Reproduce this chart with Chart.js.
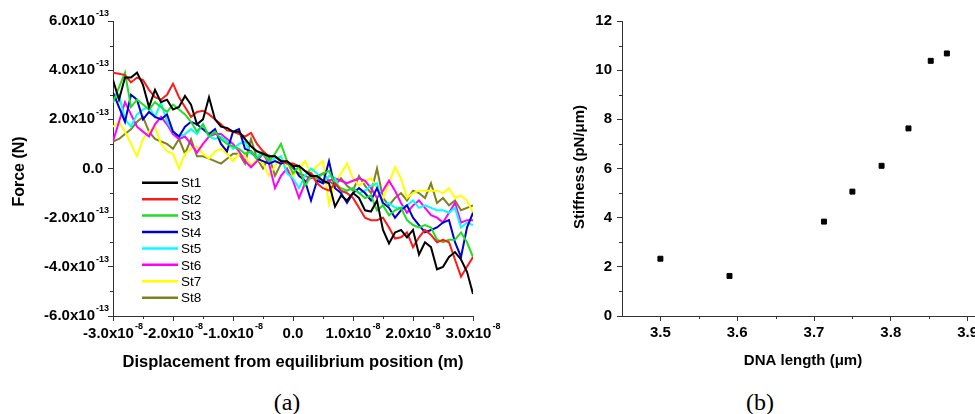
<!DOCTYPE html>
<html>
<head>
<meta charset="utf-8">
<script src="https://cdn.jsdelivr.net/npm/chart.js@4.4.1/dist/chart.umd.min.js"></script>
<style>
  html, body { margin: 0; padding: 0; background: #fff; overflow: hidden; }
  body { width: 975px; height: 414px; position: relative; }
  #wrapA { position: absolute; left: 0; top: 0; width: 520px; height: 414px; z-index: 2; }
  #wrapB { position: absolute; left: 500px; top: 0; width: 540px; height: 414px; z-index: 1; }
  .cap {
    position: absolute; top: 402px; transform: translate(-50%, -50%);
    font: 24px "Liberation Serif", "Times New Roman", serif; line-height: 1; color: #000;
  }
</style>
</head>
<body>
<div id="wrapA"><canvas id="chartA" width="520" height="414"></canvas></div>
<div id="wrapB"><canvas id="chartB" width="540" height="414"></canvas></div>
<div class="cap" style="left:287px">(a)</div>
<div class="cap" style="left:760px">(b)</div>

<script>
// ---- data (a): displacement in units of 1e-8 m, force in units of 1e-13 N ----
const displacement = [
  -3.0, -2.9, -2.8, -2.7, -2.6, -2.5, -2.4, -2.3, -2.2, -2.1,
  -2.0, -1.9, -1.8, -1.7, -1.6, -1.5, -1.4, -1.3, -1.2, -1.1,
  -1.0, -0.9, -0.8, -0.7, -0.6, -0.5, -0.4, -0.3, -0.2, -0.1,
  0.0, 0.1, 0.2, 0.3, 0.4, 0.5, 0.6, 0.7, 0.8, 0.9,
  1.0, 1.1, 1.2, 1.3, 1.4, 1.5, 1.6, 1.7, 1.8, 1.9,
  2.0, 2.1, 2.2, 2.3, 2.4, 2.5, 2.6, 2.7, 2.8, 2.9,
  3.0
];
const forceSt1 = [
  3.6, 2.8, 3.7, 3.7, 3.9, 3.4, 2.5, 3.2, 2.7, 2.8,
  2.4, 2.5, 2.95, 2.6, 1.8, 2.0, 2.9, 2.0, 1.7, 1.65,
  1.5, 1.5, 1.2, 0.9, 0.7, 0.6, 0.5, 0.5, 0.3, 0.3,
  0.1, 0.1, -0.1, -0.3, -0.3, -0.5, -0.6, -1.55, -1.1, -1.3,
  -1.0, -1.2, -1.7, -1.75, -1.3, -2.5, -3.05, -2.6, -2.5, -2.8,
  -2.5, -3.5, -3.0, -3.2, -4.1, -4.0, -3.6, -3.4, -3.7, -4.2,
  -5.1
];
const forceSt2 = [
  3.9, 3.85, 3.8, 3.5, 3.7, 3.6, 3.2, 2.9, 2.8, 3.0,
  3.45, 2.9, 2.5, 2.1, 2.3, 2.35, 2.2, 2.0, 1.8, 1.55,
  1.5, 1.4, 1.3, 1.45, 1.0, 0.7, 0.5, 0.5, 0.3, 0.2,
  0.2, 0.1, -0.1, -0.2, -0.6, -0.8, -0.9, -0.6, -0.9, -1.0,
  -1.2, -1.6, -2.0, -2.1, -2.1, -2.0, -2.4, -2.85, -2.8, -2.6,
  -3.2, -2.8, -2.5, -2.7, -3.0, -2.9, -3.0, -3.7, -4.4, -4.0,
  -3.6
];
const forceSt3 = [
  2.7, 3.3, 3.9, 2.5, 2.8, 2.6, 2.4, 2.7, 2.5, 2.3,
  2.6, 2.4, 2.2, 1.9, 1.5, 1.8, 1.3, 1.5, 1.2, 1.0,
  0.9, 0.8, 0.6, 0.7, 0.4, 0.6, 0.3, 0.6, 1.0, 0.3,
  -0.2, 0.1, -0.7, -0.3, -0.4, -0.2, -0.1, -0.6, -0.8, -0.9,
  -0.8, -1.0, -1.2, -1.1, -1.7, -1.5, -1.9, -1.7, -1.6, -2.1,
  -2.3, -2.4, -2.3, -2.4, -2.9, -3.0, -2.9, -2.9, -2.6, -3.0,
  -3.6
];
const forceSt4 = [
  3.1, 2.5, 1.9, 3.0, 2.8, 2.0, 2.3, 2.1, 2.0, 2.2,
  1.5, 1.3, 1.7, 1.9, 1.8, 1.6, 1.4, 1.6, 1.0, 0.7,
  1.5, 1.6, 0.8, 0.7, 0.4, 0.3, 0.2, 0.3, 0.2, 0.3,
  0.1, -0.3, -0.5, -1.3, -0.5, -0.6, 0.3, -0.8, -1.0, -1.4,
  -1.0, -0.8, -1.0, -1.3, -0.8, -1.4, -1.6, -2.0, -1.7, -1.5,
  -2.0, -2.3, -2.6, -2.5, -2.4, -2.2, -2.1, -3.0, -3.6, -2.4,
  -1.8
];
const forceSt5 = [
  2.7, 3.0, 2.0, 1.7, 2.2, 2.4, 2.5, 2.1, 2.7, 1.9,
  1.5, 1.3, 1.4, 1.6, 1.4, 1.8, 1.3, 1.2, 1.3, 1.1,
  0.8, 1.0, 1.1, 0.6, 0.5, 0.7, 0.3, 0.4, 0.5, -0.2,
  -0.4, -0.8, -0.3, 0.0, -0.2, -0.6, -0.3, -0.4, -1.0, -0.9,
  -0.8, -1.0, -0.9, -0.7, -0.6, -1.5, -1.4, -1.6, -1.6, -1.5,
  -1.3, -1.6, -1.5, -1.6, -1.7, -1.7, -1.8, -1.6, -2.4, -2.2,
  -2.3
];
const forceSt6 = [
  1.1, 1.9, 2.7, 2.2, 1.7, 1.5, 1.3, 1.8, 2.1, 1.8,
  1.4, 1.2, 1.3, 1.0, 0.65, 1.0, 1.3, 1.4, 1.4, 1.2,
  1.0, 0.7, 0.3, 0.05, 0.3, 0.6, 0.2, -0.8, -0.3, 0.0,
  -0.5, -1.2, -0.6, -0.2, -0.4, -0.6, -0.5, -0.4, -0.5, -0.6,
  -0.5, -0.4, -0.5, -0.8, -1.2, -0.9, -0.5, -0.9, -1.4, -1.8,
  -1.5, -1.3, -1.6, -1.9, -2.0, -2.2, -1.8, -1.4, -2.2, -2.1,
  -2.1
];
const forceSt7 = [
  1.7, 1.9, 1.5, 1.0, 0.5, 1.2, 1.5, 1.7, 1.0, 0.7,
  0.6, 0.0, 0.6, 0.8, 0.9, 0.6, 0.4, 0.7, 0.8, 0.6,
  0.3, 0.6, 0.5, 0.1, 0.4, 0.2, -0.3, 0.1, 0.5, 0.0,
  -0.3, 0.0, 0.3, -0.2, 0.1, 0.3, -1.45, -0.6, -0.2, 0.2,
  -0.4, -0.7, -0.5, -0.4, -0.8, -1.2, -0.6, 0.05, -0.4, -1.2,
  -1.0, -0.9, -0.9, -0.9, -0.9, -1.0, -0.8, -1.2, -1.1, -1.3,
  -1.8
];
const forceSt8 = [
  1.1, 1.2, 1.4, 1.6, 1.9, 2.1, 1.5, 1.2, 1.1, 1.0,
  0.8, 1.2, 0.6, 1.2, 0.5, 0.5, 0.4, 0.3, 0.2, 0.4,
  0.6, 0.6, 0.2, 1.2, 0.4, 0.0, 0.5, -0.3, 0.2, 0.3,
  0.0, -0.2, -0.3, -0.4, -0.3, -0.2, -0.5, -0.7, -0.4, -0.7,
  -0.9, -0.3, -0.7, -1.0, 0.0, -1.2, -1.5, -1.2, -1.0, -1.3,
  -0.9, -1.0, -1.2, -0.6, -1.4, -1.2, -1.5, -1.3, -1.7, -1.6,
  -1.5
];
const seriesNames = ["St1", "St2", "St3", "St4", "St5", "St6", "St7", "St8"];
const seriesColors = ["#000000", "#ff1a1a", "#22dd22", "#0000cc", "#00ffff", "#ff00ff", "#ffff00", "#808020"];
const dispTicks = [-3, -2, -1, 0, 1, 2, 3];
const forceTicks = [-6, -4, -2, 0, 2, 4, 6];

// ---- data (b) ----
const dnaLength = [3.5, 3.59, 3.713, 3.75, 3.788, 3.823, 3.852, 3.873];
const stiffness = [2.33, 1.63, 3.84, 5.06, 6.11, 7.63, 10.38, 10.68];
const lengthTicks = [3.5, 3.6, 3.7, 3.8, 3.9];
const stiffTicks = [0, 2, 4, 6, 8, 10, 12];

const axisColor = "#333";
const tickFont = 'bold 15px "Liberation Sans", Arial, sans-serif';
const supFont = 'bold 9px "Liberation Sans", Arial, sans-serif';

// mid points between major ticks -> minor tick marks
function midPoints(arr) {
  const out = [];
  for (let i = 0; i < arr.length - 1; i++) out.push((arr[i] + arr[i + 1]) / 2);
  return out;
}

function drawMinorTicks(chart, xs, ys) {
  const ctx = chart.ctx, a = chart.chartArea;
  const sx = chart.scales.x, sy = chart.scales.y;
  ctx.save();
  ctx.strokeStyle = axisColor;
  ctx.lineWidth = 1;
  ctx.beginPath();
  xs.forEach((v) => {
    const px = Math.round(sx.getPixelForValue(v)) + 0.5;
    ctx.moveTo(px, a.bottom);
    ctx.lineTo(px, a.bottom + 3);
  });
  ys.forEach((v) => {
    const py = Math.round(sy.getPixelForValue(v)) + 0.5;
    ctx.moveTo(a.left, py);
    ctx.lineTo(a.left - 3, py);
  });
  ctx.stroke();
  ctx.restore();
}

// "2.0x10" with superscript exponent
function sciLabel(ctx, value, exp, x, y, align) {
  const main = value === 0 ? "0.0" : value.toFixed(1) + "x10";
  const sup = value === 0 ? "" : exp;
  ctx.font = tickFont;
  const w1 = ctx.measureText(main).width;
  ctx.font = supFont;
  const w2 = sup ? ctx.measureText(sup).width + 1 : 0;
  let left;
  if (align === "right") left = value === 0 ? x - 6 - w1 : x - w1 - w2;
  else left = x - (w1 + w2) / 2;
  ctx.textAlign = "left";
  ctx.textBaseline = "middle";
  ctx.font = tickFont;
  ctx.fillText(main, left, y);
  if (sup) {
    ctx.font = supFont;
    ctx.fillText(sup, left + w1 + 1, y - 7);
  }
}

function rotatedText(ctx, text, x, y, font) {
  ctx.save();
  ctx.translate(x, y);
  ctx.rotate(-Math.PI / 2);
  ctx.font = font;
  ctx.textAlign = "center";
  ctx.textBaseline = "middle";
  ctx.fillText(text, 0, 0);
  ctx.restore();
}

function fixedTicks(values) {
  return function (scale) {
    scale.ticks = values.map((v) => ({ value: v }));
  };
}

function axis(min, max, values, size, isX) {
  return {
    type: "linear",
    min: min,
    max: max,
    afterBuildTicks: fixedTicks(values),
    afterFit: function (scale) {
      if (isX) scale.height = size;
      else scale.width = size;
    },
    ticks: { display: false },
    grid: { display: true, drawOnChartArea: false, drawTicks: true, tickLength: 5, color: axisColor },
    border: { display: true, color: axisColor, width: 1 },
  };
}

/* -------------------------------------------------------------------------
  (a) force vs displacement
--------------------------------------------------------------------------- */
const forceSeries = [forceSt1, forceSt2, forceSt3, forceSt4, forceSt5, forceSt6, forceSt7, forceSt8];

const panelA = {
  id: "panelA",
  afterDraw(chart) {
    const ctx = chart.ctx, a = chart.chartArea;
    const sx = chart.scales.x, sy = chart.scales.y;
    drawMinorTicks(chart, midPoints(dispTicks), midPoints(forceTicks));
    ctx.save();
    ctx.fillStyle = "#000";
    forceTicks.forEach((v) => sciLabel(ctx, v, "-13", 109, sy.getPixelForValue(v), "right"));
    dispTicks.forEach((v) => sciLabel(ctx, v, "-8", sx.getPixelForValue(v), 334, "center"));
    rotatedText(ctx, "Force (N)", 20, (a.top + a.bottom) / 2 + 3, 'bold 16px "Liberation Sans", Arial, sans-serif');
    ctx.font = 'bold 16.5px "Liberation Sans", Arial, sans-serif';
    ctx.textAlign = "center";
    ctx.textBaseline = "middle";
    ctx.fillText("Displacement from equilibrium position (m)", (a.left + a.right) / 2, 362);

    // legend inside plot
    ctx.font = '13.5px "Liberation Sans", Arial, sans-serif';
    ctx.textAlign = "left";
    seriesNames.forEach((name, i) => {
      const y = 182.7 + i * 16.43;
      ctx.strokeStyle = seriesColors[i];
      ctx.lineWidth = 2.5;
      ctx.beginPath();
      ctx.moveTo(142, y);
      ctx.lineTo(178, y);
      ctx.stroke();
      ctx.fillStyle = "#000";
      ctx.fillText(name, 181, y + 1);
    });
    ctx.restore();
  },
};

new Chart(document.getElementById("chartA"), {
  type: "line",
  data: {
    datasets: seriesNames.map((name, i) => ({
      label: name,
      data: displacement.map((x, j) => ({ x: x, y: forceSeries[i][j] })),
      borderColor: seriesColors[i],
      borderWidth: 2,
      pointRadius: 0,
      tension: 0,
      fill: false,
    })),
  },
  options: {
    responsive: false,
    animation: false,
    layout: { padding: { top: 21, right: 47, left: 0, bottom: 0 } },
    plugins: { legend: { display: false }, tooltip: { enabled: false } },
    scales: {
      x: axis(-3, 3, dispTicks, 98, true),
      y: axis(-6, 6, forceTicks, 113, false),
    },
  },
  plugins: [panelA],
});

/* -------------------------------------------------------------------------
  (b) stiffness vs DNA length
--------------------------------------------------------------------------- */
const panelB = {
  id: "panelB",
  afterDraw(chart) {
    const ctx = chart.ctx, a = chart.chartArea;
    const sx = chart.scales.x, sy = chart.scales.y;
    drawMinorTicks(chart, midPoints(lengthTicks).concat([3.95]), midPoints(stiffTicks));
    ctx.save();
    ctx.fillStyle = "#000";
    ctx.font = 'bold 15px "Liberation Sans", Arial, sans-serif';
    ctx.textAlign = "right";
    ctx.textBaseline = "middle";
    stiffTicks.forEach((v) => ctx.fillText(String(v), a.left - 10, sy.getPixelForValue(v)));
    ctx.textAlign = "center";
    lengthTicks.forEach((v) => ctx.fillText(v.toFixed(1), sx.getPixelForValue(v), 333));
    rotatedText(ctx, "Stiffness (pN/\u03bcm)", 80, 167, 'bold 15px "Liberation Sans", Arial, sans-serif');
    ctx.font = 'bold 15px "Liberation Sans", Arial, sans-serif';
    ctx.textAlign = "center";
    ctx.fillText("DNA length (\u03bcm)", 303, 361);
    ctx.restore();
  },
};

new Chart(document.getElementById("chartB"), {
  type: "scatter",
  data: {
    datasets: [
      {
        label: "Stiffness",
        data: dnaLength.map((x, i) => ({ x: x, y: stiffness[i] })),
        pointStyle: "rect",
        pointRadius: 3.5,
        backgroundColor: "#000",
        borderColor: "#000",
        borderWidth: 1,
      },
    ],
  },
  options: {
    responsive: false,
    animation: false,
    layout: { padding: { top: 21, right: 34, left: 0, bottom: 0 } },
    plugins: { legend: { display: false }, tooltip: { enabled: false } },
    scales: {
      x: axis(3.45, 3.95, lengthTicks, 98, true),
      y: axis(0, 12, stiffTicks, 122, false),
    },
  },
  plugins: [panelB],
});
</script>
</body>
</html>
